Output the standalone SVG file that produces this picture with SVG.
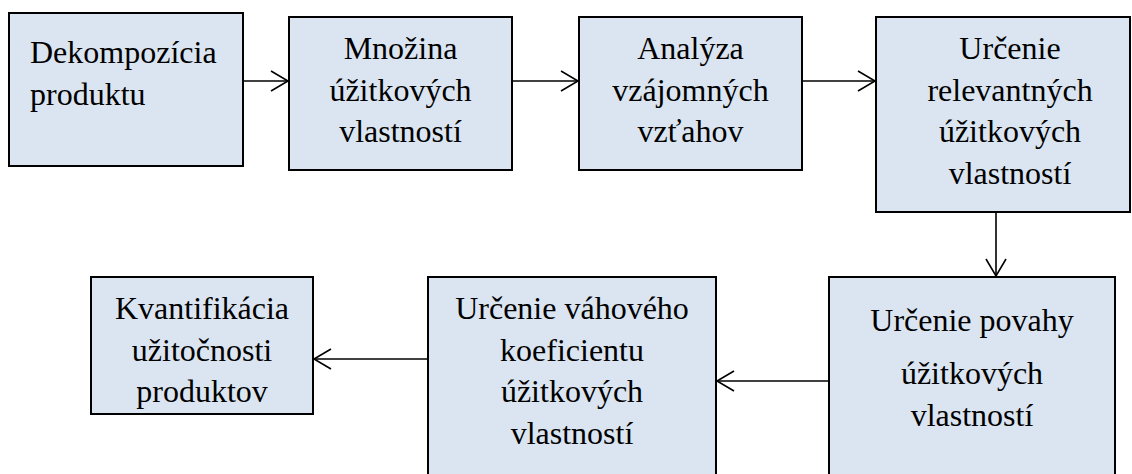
<svg xmlns="http://www.w3.org/2000/svg" width="1132" height="474" viewBox="0 0 1132 474">
<style>
.box{fill:#dbe5f1;stroke:#000;stroke-width:2}
.t{font-family:"Liberation Serif","Times New Roman",serif;font-size:32px;fill:#000}
.c{text-anchor:middle}
.ln{fill:none;stroke:#000;stroke-width:1.6}
</style>
<defs>
<marker id="ah" markerUnits="userSpaceOnUse" markerWidth="20" markerHeight="22" viewBox="0 0 20 22" refX="18" refY="11" orient="auto">
<path d="M1,1 L18,11 L1,21" fill="none" stroke="#000" stroke-width="1.6"/>
</marker>
</defs>
<rect width="1132" height="474" fill="#fff"/>
<g id="connectors">
<line class="ln" x1="243" y1="81" x2="288" y2="81" marker-end="url(#ah)"/>
<line class="ln" x1="512" y1="81" x2="578" y2="81" marker-end="url(#ah)"/>
<line class="ln" x1="802" y1="81" x2="875" y2="81" marker-end="url(#ah)"/>
<line class="ln" x1="996" y1="212" x2="996" y2="276" marker-end="url(#ah)"/>
<line class="ln" x1="829" y1="381" x2="717" y2="381" marker-end="url(#ah)"/>
<line class="ln" x1="428" y1="359" x2="314" y2="359" marker-end="url(#ah)"/>
</g>
<g id="n1">
<rect class="box" x="9" y="13" width="234" height="153"/>
<text class="t" x="30" y="63">Dekompozícia</text>
<text class="t" x="30" y="104.5">produktu</text>
</g>
<g id="n2">
<rect class="box" x="289" y="17" width="223" height="153"/>
<text class="t c" x="400.5" y="59">Množina</text>
<text class="t c" x="400.5" y="100.5">úžitkových</text>
<text class="t c" x="400.5" y="142">vlastností</text>
</g>
<g id="n3">
<rect class="box" x="579" y="17" width="223" height="153"/>
<text class="t c" x="690.5" y="59">Analýza</text>
<text class="t c" x="690.5" y="100.5">vzájomných</text>
<text class="t c" x="690.5" y="142">vzťahov</text>
</g>
<g id="n4">
<rect class="box" x="876" y="17" width="254" height="195"/>
<text class="t c" x="1010" y="59">Určenie</text>
<text class="t c" x="1010" y="100.5">relevantných</text>
<text class="t c" x="1010" y="142">úžitkových</text>
<text class="t c" x="1010" y="183.5">vlastností</text>
</g>
<g id="n5">
<rect class="box" x="829" y="277" width="286" height="220"/>
<text class="t c" x="972" y="331">Určenie povahy</text>
<text class="t c" x="972" y="384">úžitkových</text>
<text class="t c" x="972" y="426">vlastností</text>
</g>
<g id="n6">
<rect class="box" x="428" y="277" width="288" height="220"/>
<text class="t c" x="572" y="319">Určenie váhového</text>
<text class="t c" x="572" y="360.5">koeficientu</text>
<text class="t c" x="572" y="402">úžitkových</text>
<text class="t c" x="572" y="443.5">vlastností</text>
</g>
<g id="n7">
<rect class="box" x="91" y="277" width="222" height="137"/>
<text class="t c" x="202" y="319">Kvantifikácia</text>
<text class="t c" x="202" y="360.5">užitočnosti</text>
<text class="t c" x="202" y="402">produktov</text>
</g>
</svg>
